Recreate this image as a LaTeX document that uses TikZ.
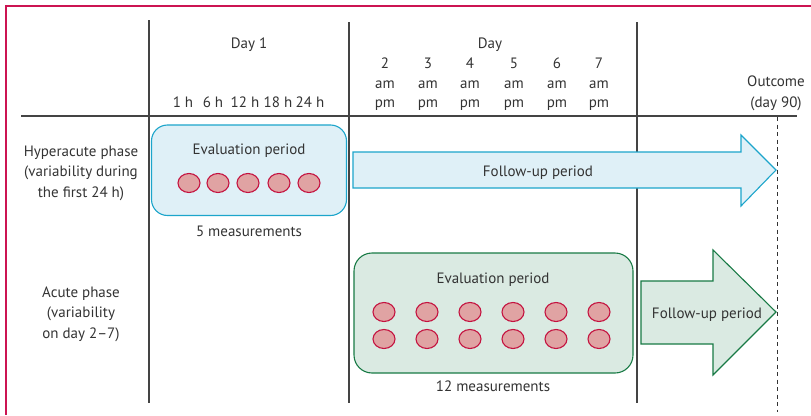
\documentclass[tikz,border=0pt]{standalone}
\usepackage{fontspec}
\setmainfont{PT Sans}
\usetikzlibrary{shapes.geometric, positioning}
\definecolor{framered}{HTML}{CC1452}
\definecolor{txtgray}{HTML}{333333}
\definecolor{gridgray}{HTML}{444444}
\definecolor{bluefill}{HTML}{DFF0F7}
\definecolor{blueline}{HTML}{1CA5CB}
\definecolor{greenfill}{HTML}{DAEAE2}
\definecolor{greenline}{HTML}{187A45}
\definecolor{dotfill}{HTML}{E0A3A3}
\definecolor{dotline}{HTML}{C4123F}

\begin{document}
\begin{tikzpicture}[x=1pt, y=-1pt,
    lbl/.style={text=txtgray, inner sep=0pt, anchor=base, font=\fontsize{15}{20.5}\selectfont},
    dots/.style={draw=dotline, fill=dotfill, ellipse, minimum width=22pt, minimum height=19pt, inner sep=0pt, line width=1.1pt},
    gridline/.style={draw=gridgray, line width=1.4pt}]
        \useasboundingbox (0,0) rectangle (811,415);
        \draw[framered, line width=2pt] (811,6) -- (5.5,6) -- (5.5,415);

        % table lines
        \draw[gridline] (21,116) -- (797,116);
        \draw[gridline] (149,20) -- (149,403);
        \draw[gridline] (349,22) -- (349,403);
        \draw[gridline] (637,22) -- (637,403);
        \draw[txtgray, line width=1pt, dash pattern=on 4pt off 3.5pt] (777,117) -- (777,412);

        % header
        \node[lbl] (day1) at (249,48) {Day 1};
        \node[lbl] (day) at (490,48) {Day};
        \foreach \d/\x in {2/385,3/428,4/470,5/514,6/557,7/599} {
            \node[lbl] (d\d) at (\x,68) {\d};
            \node[lbl] (am\d) at (\x,88) {am};
            \node[lbl] (pm\d) at (\x,107) {pm};
        }
        \foreach \h/\x in {1/183,6/213,12/245,18/278,24/310}
            \node[lbl] (h\h) at (\x,107) {\h{} h};
        % base of a multi-line node is its last line
        \node[lbl, align=center] (outcome) at (776,107) {Outcome\\(day 90)};

        % row labels
        \node[lbl, align=center] (hyper) at (81,197) {Hyperacute phase\\(variability during\\the first 24 h)};
        \node[lbl, align=center] (acute) at (81,338) {Acute phase\\(variability\\on day 2--7)};

        % hyperacute phase
        \draw[draw=blueline, fill=bluefill, line width=1.1pt, rounded corners=16pt] (151.5,125) rectangle (346.5,215.5);
        \node[lbl] (evalA) at (249,154) {Evaluation period};
        \foreach \x [count=\i] in {189,218,248,279,309}
            \node[dots] (a\i) at (\x,183) {};
        \node[lbl] (measA) at (249,236) {5 measurements};
        \draw[draw=blueline, fill=bluefill, line width=1.1pt] (353,152) -- (741,152) -- (741,135) -- (776,170) -- (741,206) -- (741,188) -- (353,188) -- cycle;
        \node[lbl] (followA) at (538,176) {Follow-up period};

        % acute phase
        \draw[draw=greenline, fill=greenfill, line width=1.1pt, rounded corners=18pt] (354,253) rectangle (633,373);
        \node[lbl] (evalB) at (493,283) {Evaluation period};
        \foreach \x [count=\i] in {384,427,470,513,556,599} {
            \node[dots] (b\i) at (\x,312) {};
            \node[dots] (c\i) at (\x,339) {};
        }
        \node[lbl] (measB) at (493,391) {12 measurements};
        \draw[draw=greenline, fill=greenfill, line width=1.1pt] (641,281) -- (713,281) -- (713,250) -- (776,312) -- (713,375) -- (713,344) -- (641,344) -- cycle;
        \node[lbl] (followB) at (707,318) {Follow-up period};
\end{tikzpicture}
\end{document}
